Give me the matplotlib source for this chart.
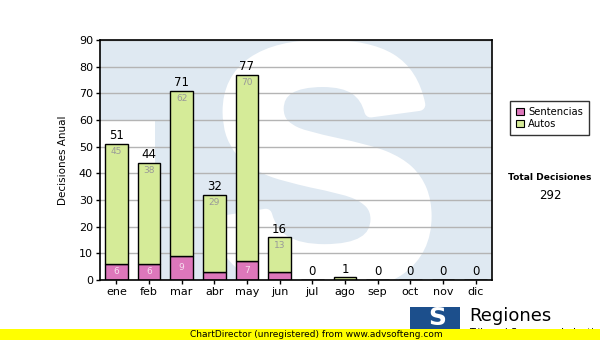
import numpy as np
import matplotlib
matplotlib.use('Agg')
import matplotlib.pyplot as plt
from matplotlib.patches import Rectangle, PathPatch, Patch
from matplotlib.textpath import TextPath
from matplotlib.font_manager import FontProperties
from matplotlib.transforms import Affine2D

# Data
months = ['ene', 'feb', 'mar', 'abr', 'may', 'jun', 'jul', 'ago', 'sep', 'oct', 'nov', 'dic']
sentencias = [6, 6, 9, 3, 7, 3, 0, 0, 0, 0, 0, 0]
autos = [45, 38, 62, 29, 70, 13, 0, 1, 0, 0, 0, 0]
series_names = ['Sentencias', 'Autos']
ylabel = 'Decisiones Anual'
yticks = [0, 10, 20, 30, 40, 50, 60, 70, 80, 90]

pink = '#dd77bb'
green = '#d5eb98'
wm_blue = '#dfe9f2'


def main():
    W, H = 600, 340
    fig = plt.figure(figsize=(6, 3.4), dpi=100)
    ax = fig.add_axes([100 / W, 60 / H, 392 / W, 240 / H])
    ax.set_facecolor(wm_blue)

    # watermark: white area left of the "T" stem and a big heavy white "S"
    ax.add_patch(Rectangle((0, 0), 0.14, 0.667, transform=ax.transAxes,
                           facecolor='white', edgecolor='none', zorder=0.1))
    tp = TextPath((0, 0), 'S', size=1, prop=FontProperties(family='Liberation Sans', weight='bold'))
    ext = tp.get_extents()
    x0, x1, y0, y1 = 0.30, 0.83, -0.03, 0.975
    tr = (Affine2D().translate(-ext.x0, -ext.y0)
          .scale((x1 - x0) / ext.width, (y1 - y0) / ext.height)
          .translate(x0, y0))
    ax.add_patch(PathPatch(tr.transform_path(tp), transform=ax.transAxes,
                           facecolor='white', edgecolor='white', linewidth=9,
                           joinstyle='round', zorder=0.2))

    x = np.arange(len(months))
    sent = np.array(sentencias)
    aut = np.array(autos)
    total = sent + aut

    ax.bar(x, sent, width=0.7, color=pink, edgecolor='black', linewidth=1, zorder=2)
    ax.bar(x, aut, bottom=sent, width=0.7, color=green, edgecolor='black', linewidth=1, zorder=2)

    for i in range(len(months)):
        ax.text(x[i], total[i] + 0.6, str(total[i]), ha='center', va='bottom',
                fontsize=8.5, color='black', zorder=3)
        if aut[i] >= 5:
            ax.text(x[i], total[i] - 1.2, str(aut[i]), ha='center', va='top',
                    fontsize=6.5, color='#999999', zorder=3)
        if sent[i] >= 5:
            ax.text(x[i], sent[i] / 2, str(sent[i]), ha='center', va='center',
                    fontsize=6.5, color='#f6e0ef', zorder=3)

    ax.set_xlim(-0.5, len(months) - 0.5)
    ax.set_ylim(0, 90)
    ax.set_yticks(yticks)
    ax.set_xticks(x)
    ax.set_xticklabels(months)
    ax.tick_params(axis='both', labelsize=8, length=3, width=1, pad=2)
    ax.set_axisbelow(True)
    ax.yaxis.grid(True, color='#b4b4b4', linewidth=1)
    for s in ax.spines.values():
        s.set_linewidth(1.2)
        s.set_zorder(4)
    ax.set_ylabel(ylabel, fontsize=7.5, labelpad=8)

    handles = [Patch(facecolor=pink, edgecolor='black', linewidth=0.8),
               Patch(facecolor=green, edgecolor='black', linewidth=0.8)]
    leg = fig.legend(handles, series_names, loc='upper left', bbox_to_anchor=(510 / W, 1 - 101 / H),
                     fontsize=7.2, frameon=True, fancybox=False, edgecolor='black',
                     handlelength=0.8, handleheight=0.8, handletextpad=0.4,
                     borderpad=0.6, labelspacing=0.2, borderaxespad=0)
    leg.get_frame().set_linewidth(1)

    fig.text(550 / W, 1 - 177 / H, 'Total Decisiones', ha='center', va='center',
             fontsize=6.6, fontweight='bold')
    fig.text(550 / W, 1 - 196 / H, str(total.sum()), ha='center', va='center', fontsize=8.5)

    # logo and unregistered banner at the bottom
    fig.patches.append(Rectangle((410 / W, 0), 50 / W, 33 / H, transform=fig.transFigure,
                                 facecolor='#1c4f8c', edgecolor='none', zorder=1))
    fig.text(437 / W, 1 - 318 / H, 'S', ha='center', va='center', fontsize=18,
             fontweight='bold', color='white', zorder=2)
    fig.text(469 / W, 1 - 316 / H, 'Regiones', ha='left', va='center', fontsize=13, zorder=2)
    fig.text(469 / W, 1 - 333 / H, 'Tribunal Supremo de Justicia', ha='left', va='center',
             fontsize=7, zorder=0.5)
    fig.patches.append(Rectangle((0, 0), 1, 11 / H, transform=fig.transFigure,
                                 facecolor='#ffff00', edgecolor='none', zorder=3))
    fig.text(190 / W, 5.5 / H, 'ChartDirector (unregistered) from www.advsofteng.com',
             ha='left', va='center', fontsize=6.5, zorder=4)

    fig.savefig('out.png', dpi=100)


if __name__ == "__main__":
    main()
